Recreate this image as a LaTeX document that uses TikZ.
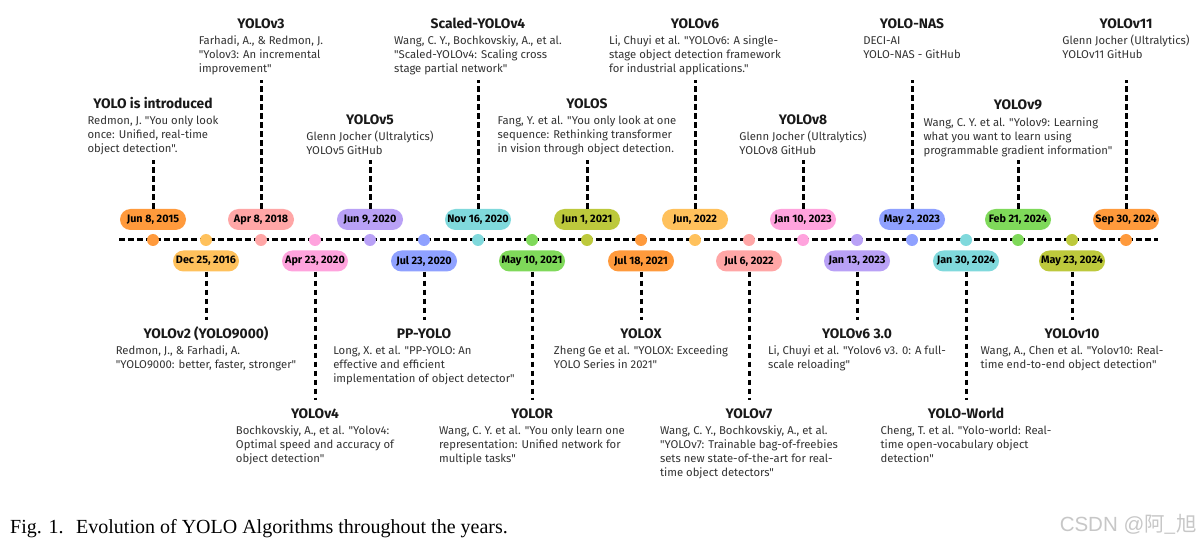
\documentclass[tikz,border=0pt]{standalone}
\usepackage{fontspec}
\setmainfont{Fira Sans}[Ligatures=TeXOff]
\newfontfamily\capfont{Liberation Serif}
\newfontfamily\wmfont{Liberation Sans}
\newfontfamily\cjkfont{Noto Sans CJK SC}
\usetikzlibrary{calc}
\definecolor{cA}{HTML}{FF9A3C}
\definecolor{cB}{HTML}{FFC15C}
\definecolor{cC}{HTML}{FFA6A6}
\definecolor{cD}{HTML}{FFA3DD}
\definecolor{cE}{HTML}{B9A1F6}
\definecolor{cF}{HTML}{8FA1FF}
\definecolor{cG}{HTML}{80D9DC}
\definecolor{cH}{HTML}{7FD95A}
\definecolor{cI}{HTML}{BDC93C}
\tikzset{
  pill/.style={rounded corners=10.5pt, minimum width=66pt, minimum height=21pt, inner sep=0pt,
    font=\fontsize{10.8}{12}\selectfont\bfseries, text=black},
  dot/.style={circle, inner sep=0pt, minimum size=12pt},
  conn/.style={line width=3pt, dash pattern=on 5.5pt off 3.5pt, black},
  ttl/.style={font=\fontsize{13.8}{16}\selectfont\bfseries, text=black!90, inner sep=0pt},
  bdy/.style={font=\fontsize{11.3}{14}\selectfont, text=black!80, align=left, inner sep=0pt}
}
% #1 name, #2 x, #3 colour, #4 date, #5 connector end y, #6 title baseline y, #7 title, #8 body
\newcommand\evup[8]{%
  \node[dot,fill=#3] (#1d) at (#2,240) {};
  \node[pill,fill=#3] (#1p) at (#2,219.5) {#4};
  \coordinate (#1e) at (#2,#5);
  \draw[conn] (#1p.north) -- (#1e);
  \node[ttl,anchor=base] (#1t) at (#2,#6) {#7};
  \node[bdy,anchor=north] (#1b) at ($(#1t.base)+(0,6.2)$) {\strut#8};
}
\newcommand\evdown[8]{%
  \node[dot,fill=#3] (#1d) at (#2,240) {};
  \node[pill,fill=#3] (#1p) at (#2,261) {#4};
  \coordinate (#1e) at (#2,#5);
  \draw[conn] (#1p.south) -- (#1e);
  \node[ttl,anchor=base] (#1t) at (#2,#6) {#7};
  \node[bdy,anchor=north] (#1b) at ($(#1t.base)+(0,6.2)$) {\strut#8};
}
\begin{document}
\begin{tikzpicture}[x=1pt,y=-1pt]
\useasboundingbox[fill=white] (0,0) rectangle (1202,545);
\coordinate (tl) at (119,240);
\coordinate (tr) at (1158,240);
\draw[conn] (tl) -- (tr);

\evup{e1}{153}{cA}{Jun 8, 2015}{160}{108.5}{YOLO is introduced}{Redmon, J. "You only look\\once: Unified, real-time\\object detection".}
\evdown{e2}{206}{cB}{Dec 25, 2016}{320}{338.5}{YOLOv2 (YOLO9000)}{Redmon, J., \& Farhadi, A.\\"YOLO9000: better, faster, stronger"}
\evup{e3}{261}{cC}{Apr 8, 2018}{80}{28.5}{YOLOv3}{Farhadi, A., \& Redmon, J.\\"Yolov3: An incremental\\improvement"}
\evdown{e4}{315}{cD}{Apr 23, 2020}{400}{418.5}{YOLOv4}{Bochkovskiy, A., et al. "Yolov4:\\Optimal speed and accuracy of\\object detection"}
\evup{e5}{370}{cE}{Jun 9, 2020}{160}{124.5}{YOLOv5}{Glenn Jocher (Ultralytics)\\YOLOv5 GitHub}
\evdown{e6}{424}{cF}{Jul 23, 2020}{320}{338.5}{PP-YOLO}{Long, X. et al. "PP-YOLO: An\\effective and efficient\\implementation of object detector"}
\evup{e7}{478}{cG}{Nov 16, 2020}{80}{28.5}{Scaled-YOLOv4}{Wang, C. Y., Bochkovskiy, A., et al.\\"Scaled-YOLOv4: Scaling cross\\stage partial network"}
\evdown{e8}{532}{cH}{May 10, 2021}{400}{418.5}{YOLOR}{Wang, C. Y. et al. "You only learn one\\representation: Unified network for\\multiple tasks"}
\evup{e9}{587}{cI}{Jun 1, 2021}{160}{108.5}{YOLOS}{Fang, Y. et al. "You only look at one\\sequence: Rethinking transformer\\in vision through object detection.}
\evdown{e10}{641}{cA}{Jul 18, 2021}{320}{338.5}{YOLOX}{Zheng Ge et al. "YOLOX: Exceeding\\YOLO Series in 2021"}
\evup{e11}{695}{cB}{Jun, 2022}{80}{28.5}{YOLOv6}{Li, Chuyi et al. "YOLOv6: A single-\\stage object detection framework\\for industrial applications."}
\evdown{e12}{749}{cC}{Jul 6, 2022}{400}{418.5}{YOLOv7}{Wang, C. Y., Bochkovskiy, A., et al.\\"YOLOv7: Trainable bag-of-freebies\\sets new state-of-the-art for real-\\time object detectors"}
\evup{e13}{803}{cD}{Jan 10, 2023}{160}{124.5}{YOLOv8}{Glenn Jocher (Ultralytics)\\YOLOv8 GitHub}
\evdown{e14}{857}{cE}{Jan 13, 2023}{320}{338.5}{YOLOv6 3.0}{Li, Chuyi et al. "Yolov6 v3. 0: A full-\\scale reloading"}
\evup{e15}{912}{cF}{May 2, 2023}{80}{28.5}{YOLO-NAS}{DECI-AI\\YOLO-NAS - GitHub}
\evdown{e16}{966}{cG}{Jan 30, 2024}{400}{418.5}{YOLO-World}{Cheng, T. et al. "Yolo-world: Real-\\time open-vocabulary object\\detection"}
\evup{e17}{1018}{cH}{Feb 21, 2024}{160}{110}{YOLOv9}{Wang, C. Y. et al. "Yolov9: Learning\\what you want to learn using\\programmable gradient information"}
\evdown{e18}{1072}{cI}{May 23, 2024}{320}{338.5}{YOLOv10}{Wang, A., Chen et al. "Yolov10: Real-\\time end-to-end object detection"}
\evup{e19}{1126}{cA}{Sep 30, 2024}{80}{28.5}{YOLOv11}{Glenn Jocher (Ultralytics)\\YOLOv11 GitHub}

\node[anchor=base west, inner sep=0pt, font=\capfont\fontsize{20}{22}\selectfont] (cap) at (10,533)
  {Fig. 1.\hspace{0.3em} Evolution of YOLO Algorithms throughout the years.};
\node[anchor=base east, inner sep=0pt, text=black!22, font=\wmfont\fontsize{20.5}{22}\selectfont] (wm) at (1197,531)
  {CSDN @{\cjkfont 阿\_旭}};
\end{tikzpicture}
\end{document}
